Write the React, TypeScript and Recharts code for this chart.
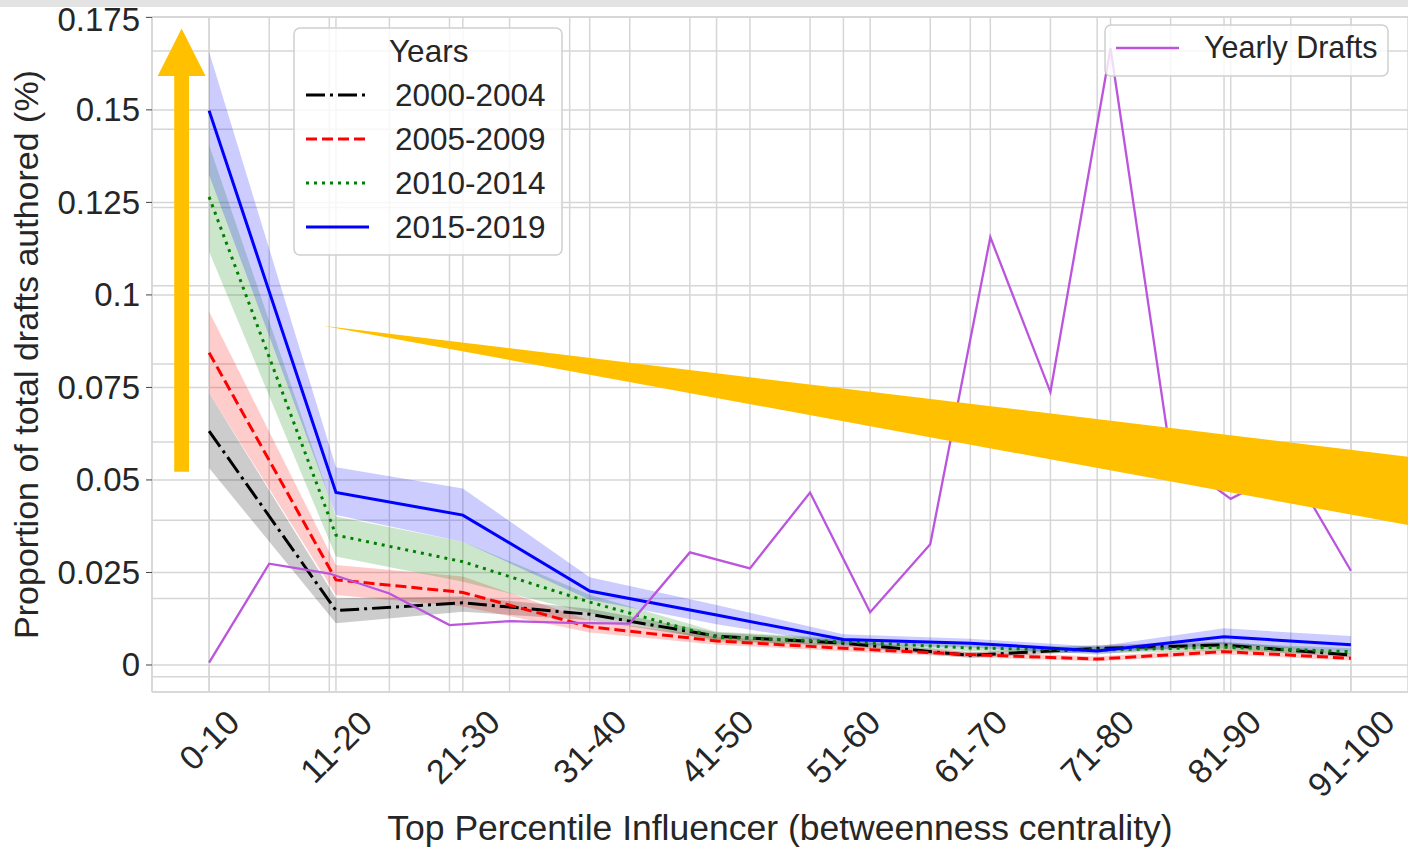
import React from 'react';
import {
  ComposedChart, Line, Area, XAxis, YAxis, CartesianGrid, ReferenceArea, ReferenceLine, Legend,
} from 'recharts';

const FONT = '"Liberation Sans", Arial, Helvetica, sans-serif';
const TEXT = '#262626';
const GRID = '#d6d6d6';
const ORANGE = '#ffc000';

// x categories (bottom axis)
const CATEGORIES = ['0-10', '11-20', '21-30', '31-40', '41-50', '51-60', '61-70', '71-80', '81-90', '91-100'];
const CAT_TICKS = [0, 1, 2, 3, 4, 5, 6, 7, 8, 9];
const Y_TICKS = [0, 0.025, 0.05, 0.075, 0.1, 0.125, 0.15, 0.175];

// yearly drafts on the twin axes (labels of the twin y axis are cut off in the picture)
const YEARS = [2000, 2001, 2002, 2003, 2004, 2005, 2006, 2007, 2008, 2009,
  2010, 2011, 2012, 2013, 2014, 2015, 2016, 2017, 2018, 2019];
const YEARLY_DRAFTS = [3.6, 28.9, 26.4, 21.3, 13.2, 14.2, 13.8, 13.6, 31.8, 27.7,
  47.1, 16.5, 33.9, 112.4, 72.8, 160.7, 56.7, 45.5, 53.4, 27.1];
const DRAFT_TICKS = [0, 20, 40, 60, 80, 100, 120, 140, 160];

// proportion of total drafts authored, mean + confidence band per period
const MEAN_00_04 = [0.0632, 0.0147, 0.0168, 0.0137, 0.0078, 0.0059, 0.0026, 0.0045, 0.0054, 0.0027];
const LOW_00_04 = [0.0532, 0.0113, 0.0144, 0.0121, 0.0068, 0.0050, 0.0019, 0.0037, 0.0045, 0.0020];
const HIGH_00_04 = [0.0735, 0.0180, 0.0185, 0.0152, 0.0088, 0.0068, 0.0034, 0.0054, 0.0063, 0.0034];

const MEAN_05_09 = [0.0844, 0.0230, 0.0196, 0.0103, 0.0065, 0.0045, 0.0028, 0.0016, 0.0036, 0.0018];
const LOW_05_09 = [0.0735, 0.0189, 0.0158, 0.0088, 0.0055, 0.0037, 0.0021, 0.0010, 0.0028, 0.0012];
const HIGH_05_09 = [0.0955, 0.0270, 0.0239, 0.0120, 0.0076, 0.0054, 0.0036, 0.0023, 0.0045, 0.0025];

const MEAN_10_14 = [0.1265, 0.0351, 0.0279, 0.0170, 0.0075, 0.0063, 0.0046, 0.0040, 0.0048, 0.0036];
const LOW_10_14 = [0.1117, 0.0293, 0.0225, 0.0140, 0.0062, 0.0053, 0.0037, 0.0032, 0.0038, 0.0028];
const HIGH_10_14 = [0.1405, 0.0401, 0.0333, 0.0190, 0.0090, 0.0073, 0.0056, 0.0049, 0.0060, 0.0045];

const MEAN_15_19 = [0.1498, 0.0466, 0.0405, 0.0200, 0.0135, 0.0069, 0.0059, 0.0038, 0.0076, 0.0055];
const LOW_15_19 = [0.1324, 0.0405, 0.0333, 0.0176, 0.0110, 0.0055, 0.0047, 0.0028, 0.0056, 0.0036];
const HIGH_15_19 = [0.1657, 0.0534, 0.0477, 0.0237, 0.0162, 0.0083, 0.0071, 0.0050, 0.0099, 0.0078];

const GROUPS = [
  { key: 'g0004', name: '2000-2004', color: '#000000', dash: '19 5 3 5', mean: MEAN_00_04, lo: LOW_00_04, hi: HIGH_00_04 },
  { key: 'g0509', name: '2005-2009', color: '#ff0000', dash: '11 5', mean: MEAN_05_09, lo: LOW_05_09, hi: HIGH_05_09 },
  { key: 'g1014', name: '2010-2014', color: '#008000', dash: '3 5', mean: MEAN_10_14, lo: LOW_10_14, hi: HIGH_10_14 },
  { key: 'g1519', name: '2015-2019', color: '#0000ff', dash: undefined, mean: MEAN_15_19, lo: LOW_15_19, hi: HIGH_15_19 },
];
const DRAFTS_COLOR = '#bb55dd';

const catData = CAT_TICKS.map((idx) => {
  const row: Record<string, any> = { idx };
  GROUPS.forEach((g) => {
    row[g.key] = g.mean[idx];
    row[g.key + 'Band'] = [g.lo[idx], g.hi[idx]];
  });
  return row;
});
const yearData = YEARS.map((year, i) => ({ year, drafts: YEARLY_DRAFTS[i] }));

// slide annotations, in data units of the category / proportion axes
const ARROW = { x1: -0.405, x2: -0.028, y1: 0.0522, y2: 0.172 };
const WEDGE = { x1: 0.898, x2: 9.45, y1: 0.0378, y2: 0.0917 };

const arrowShape = ({ x, y, width, height }: any) => {
  const head = height * 0.107;
  const cx = x + width / 2;
  const half = width * 0.155;
  const pts = [
    [cx, y], [x + width, y + head], [cx + half, y + head], [cx + half, y + height],
    [cx - half, y + height], [cx - half, y + head], [x, y + head],
  ].map((p) => p.join(',')).join(' ');
  return <polygon points={pts} fill={ORANGE} />;
};

const wedgeShape = ({ x, y, width, height }: any) => {
  const pts = [[x, y], [x + width, y + height * 0.657], [x + width, y + height]]
    .map((p) => p.join(',')).join(' ');
  return <polygon points={pts} fill={ORANGE} />;
};

const YTick = ({ x, y, payload }: any) => (
  // top label sits right at the page edge, keep its box inside the picture
  <text x={x} y={Math.max(y, 19)} textAnchor="end" dominantBaseline="central" fontSize={33}
    fill={TEXT} fontFamily={FONT}>
    {payload.value === 0 ? '0' : String(payload.value)}
  </text>
);

const XTick = ({ x, y, payload }: any) => {
  const label = CATEGORIES[payload.value] ?? '';
  const fs = 34;
  const w = [...label].reduce((s, ch) => s + (ch === '-' ? 0.333 : 0.556), 0) * fs;
  const cy = y + (w + fs * 1.0) / (2 * Math.SQRT2);
  return (
    <text x={x} y={cy} textAnchor="middle" dominantBaseline="central" fontSize={fs} fill={TEXT}
      fontFamily={FONT} transform={`rotate(-45 ${x} ${cy})`}>
      {label}
    </text>
  );
};

const renderXLabel = ({ viewBox }: any) => (
  <text x={viewBox.x + viewBox.width / 2} y={viewBox.y + 148} textAnchor="middle" fontSize={35.5}
    fill={TEXT} fontFamily={FONT}>
    Top Percentile Influencer (betweenness centrality)
  </text>
);

const renderYLabel = ({ viewBox }: any) => {
  const cx = 38;
  const cy = viewBox.y + viewBox.height / 2;
  return (
    <text x={cx} y={cy} textAnchor="middle" fontSize={34} fill={TEXT} fontFamily={FONT}
      transform={`rotate(-90 ${cx} ${cy})`}>
      Proportion of total drafts authored (%)
    </text>
  );
};

const LegendBoxes = ({ payload }: any) => {
  const entries = (payload || []).filter((p: any) => p.type !== 'none');
  const years = GROUPS.map((g) => entries.find((p: any) => p.value === g.name) || { value: g.name, color: g.color });
  const drafts = entries.find((p: any) => p.value === 'Yearly Drafts') || { value: 'Yearly Drafts', color: DRAFTS_COLOR };
  return (
    <svg width={1408} height={850} style={{ position: 'absolute', left: 0, top: 0, pointerEvents: 'none' }}>
      <rect x={294} y={28} width={268} height={227} rx={6} fill="rgba(255,255,255,0.8)" stroke="#cfcfcf" strokeWidth={1.5} />
      <text x={389} y={62} fontSize={31.5} fill={TEXT} fontFamily={FONT}>Years</text>
      {years.map((p: any, i: number) => {
        const cy = 95 + i * 44;
        return (
          <g key={p.value}>
            <line x1={306} x2={369} y1={cy} y2={cy} stroke={p.color} strokeWidth={3}
              strokeDasharray={GROUPS[i].dash} />
            <text x={395} y={cy + 11} fontSize={31.5} fill={TEXT} fontFamily={FONT}>{p.value}</text>
          </g>
        );
      })}
      <rect x={1105} y={25} width={283} height={51} rx={6} fill="rgba(255,255,255,0.8)" stroke="#cfcfcf" strokeWidth={1.5} />
      <line x1={1116} x2={1179} y1={48} y2={48} stroke={drafts.color} strokeWidth={2.5} />
      <text x={1204} y={58} fontSize={30.5} fill={TEXT} fontFamily={FONT}>{drafts.value}</text>
    </svg>
  );
};

export default function App() {
  return (
    <div style={{ position: 'absolute', left: 0, top: 0, width: 1408, height: 850, background: '#fff' }}>
      {/* grey strip of the slide above the figure, kept behind the chart */}
      <div style={{ position: 'absolute', left: 0, top: 0, width: 1408, height: 7, background: '#e3e3e3' }} />
      <ComposedChart width={1408} height={850} data={catData} margin={{ top: 0, right: 0, bottom: 0, left: 0 }}>
        <XAxis xAxisId="cat" dataKey="idx" type="number" domain={[-0.45, 9.45]} ticks={CAT_TICKS}
          allowDataOverflow interval={0} height={158} tickLine={false} tickSize={0} tickMargin={12}
          axisLine={{ stroke: GRID, strokeWidth: 1.5 }} tick={<XTick />} label={{ content: renderXLabel }} />
        <XAxis xAxisId="year" dataKey="year" type="number" orientation="top" domain={[1999.05, 2019.95]}
          ticks={YEARS} allowDataOverflow interval={0} height={17} tick={false} tickSize={4}
          tickLine={{ stroke: '#555' }} axisLine={{ stroke: GRID, strokeWidth: 1.5 }} />
        <YAxis yAxisId="prop" type="number" domain={[-0.0073, 0.1751]} ticks={Y_TICKS} allowDataOverflow
          interval={0} width={152} tickSize={6} tickMargin={6} tickLine={{ stroke: '#444' }}
          axisLine={{ stroke: GRID, strokeWidth: 1.5 }} tick={<YTick />} label={{ content: renderYLabel }} />
        <YAxis yAxisId="drafts" orientation="right" type="number" domain={[-3.9, 168.7]} ticks={DRAFT_TICKS}
          allowDataOverflow interval={0} width={0} tick={false} tickLine={false}
          axisLine={{ stroke: GRID, strokeWidth: 1.5 }} />

        <CartesianGrid xAxisId="cat" yAxisId="prop" stroke={GRID} strokeWidth={1.5} />
        {/* grid of the twin axes (years / drafts) */}
        {YEARS.map((yr) => (
          <ReferenceLine key={`yr-${yr}`} xAxisId="year" yAxisId="drafts" x={yr} stroke={GRID}
            strokeWidth={1.5} ifOverflow="extendDomain" zIndex={-90} />
        ))}
        {DRAFT_TICKS.map((v) => (
          <ReferenceLine key={`dr-${v}`} xAxisId="year" yAxisId="drafts" y={v} stroke={GRID}
            strokeWidth={1.5} ifOverflow="extendDomain" zIndex={-90} />
        ))}

        {GROUPS.map((g) => (
          <Area key={g.key + 'Band'} xAxisId="cat" yAxisId="prop" dataKey={g.key + 'Band'} type="linear"
            stroke="none" fill={g.color} fillOpacity={0.2} legendType="none" isAnimationActive={false} />
        ))}
        {GROUPS.map((g) => (
          <Line key={g.key} xAxisId="cat" yAxisId="prop" dataKey={g.key} name={g.name} type="linear"
            stroke={g.color} strokeWidth={3} strokeDasharray={g.dash} dot={false} activeDot={false}
            isAnimationActive={false} />
        ))}
        <Line data={yearData} xAxisId="year" yAxisId="drafts" dataKey="drafts" name="Yearly Drafts"
          type="linear" stroke={DRAFTS_COLOR} strokeWidth={2.3} dot={false} activeDot={false}
          isAnimationActive={false} />

        <ReferenceArea xAxisId="cat" yAxisId="prop" x1={ARROW.x1} x2={ARROW.x2} y1={ARROW.y1} y2={ARROW.y2}
          ifOverflow="visible" shape={arrowShape} zIndex={900} />
        <ReferenceArea xAxisId="cat" yAxisId="prop" x1={WEDGE.x1} x2={WEDGE.x2} y1={WEDGE.y1} y2={WEDGE.y2}
          ifOverflow="visible" shape={wedgeShape} zIndex={900} />

        <Legend layout="horizontal" verticalAlign="middle" align="center" content={<LegendBoxes />}
          wrapperStyle={{ position: 'absolute', left: 0, top: 0, width: 1408, height: 850, pointerEvents: 'none' }} />
      </ComposedChart>
    </div>
  );
}
